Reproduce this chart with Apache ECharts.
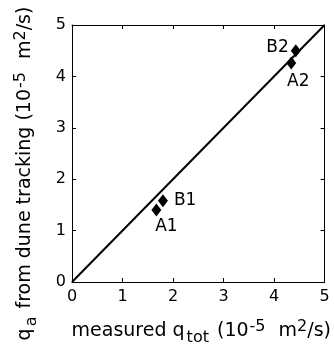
<!DOCTYPE html>
<html><head><meta charset="utf-8">
<script src="https://cdn.jsdelivr.net/npm/echarts@6/dist/echarts.min.js"></script>
<style>html,body{margin:0;padding:0;background:#fff}#c{width:334px;height:351px}</style>
</head><body><div id="c"></div>
<script>
const names = ['A1', 'B1', 'A2', 'B2'];
const measured = [1.67, 1.80, 4.34, 4.43];
const dune = [1.40, 1.58, 4.26, 4.50];
const lineX = [0, 5];
const lineY = [0, 5];
const ticks = [0, 1, 2, 3, 4, 5];

const labelCfg = {
  A1: {position: 'bottom', distance: 2, offset: [10, 0]},
  B1: {position: 'right', distance: 6, offset: [0, 0]},
  A2: {position: 'bottom', distance: 4, offset: [7, 0]},
  B2: {position: 'left', distance: 2, offset: [0, -3]}
};
const FF = '"DejaVu Sans", sans-serif';
const rich = {
  n: {fontSize: 19, fontFamily: FF, color: '#000'},
  sub: {fontSize: 16, fontFamily: FF, color: '#000', padding: [13, 2, 0, 2]},
  sup: {fontSize: 16, fontFamily: FF, color: '#000', padding: [0, 1, 10, 1]},
  sup2: {fontSize: 16, fontFamily: FF, color: '#000', padding: [0, 0, 10, 0]}
};
const pts = names.map((n, i) => ({
  name: n,
  value: [measured[i], dune[i]],
  label: Object.assign({show: true, formatter: n, fontSize: 17, fontFamily: FF, color: '#000'}, labelCfg[n])
}));

function axis(extra) {
  return Object.assign({
    type: 'value',
    min: ticks[0], max: ticks[ticks.length - 1], interval: 1,
    axisLine: {show: true, onZero: false, lineStyle: {color: '#000', width: 1}},
    axisTick: {show: true, inside: true, length: 4, lineStyle: {color: '#000'}},
    splitLine: {show: false},
    axisLabel: {show: false}
  }, extra);
}
const chart = echarts.init(document.getElementById('c'));
chart.setOption({
  animation: false,
  grid: {left: 72, top: 25, width: 258, height: 258, containLabel: false},
  xAxis: [
    axis({
      position: 'bottom',
      axisLabel: {show: true, fontSize: 16, fontFamily: FF, color: '#000', margin: 7},
      name: '{n|measured q}{sub|tot}{n| (10}{sup|-5}{n|  m}{sup2|2}{n|/s)}',
      nameLocation: 'middle', nameGap: 35,
      nameTextStyle: {rich: rich, fontSize: 19, fontFamily: FF, padding: [0, 0, 0, 6]}
    }),
    axis({position: 'top'})
  ],
  yAxis: [
    axis({
      position: 'left',
      axisLabel: {show: true, fontSize: 16, fontFamily: FF, color: '#000', margin: 6},
      name: '{n|q}{sub|a}{n| from dune tracking (10}{sup|-5}{n|  m}{sup2|2}{n|/s)}',
      nameLocation: 'middle', nameGap: 32,
      nameTextStyle: {rich: rich, fontSize: 19, fontFamily: FF, padding: [0, 40, 0, 0]}
    }),
    axis({position: 'right'})
  ],
  series: [
    {
      type: 'line',
      data: lineX.map((x, i) => [x, lineY[i]]),
      showSymbol: false,
      lineStyle: {color: '#000', width: 2},
      silent: true
    },
    {
      type: 'scatter',
      data: pts,
      symbol: 'diamond',
      symbolSize: [10, 13],
      itemStyle: {color: '#000', opacity: 1}
    }
  ]
});
</script>
</body></html>
